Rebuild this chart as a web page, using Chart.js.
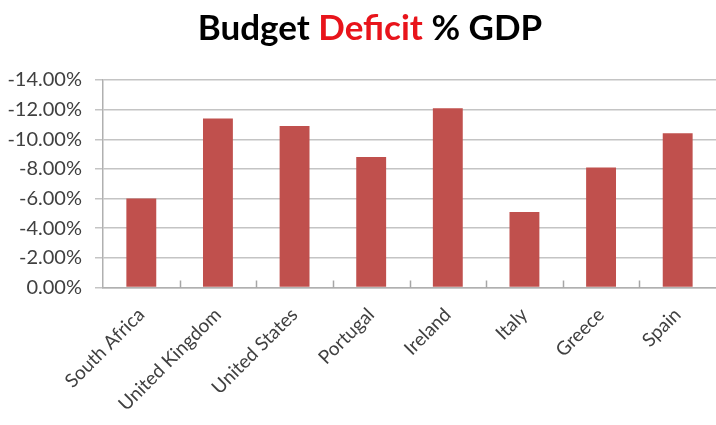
<!DOCTYPE html>
<html><head><meta charset="utf-8">
<script src="https://cdn.jsdelivr.net/npm/chart.js@4"></script>
<style>html,body{margin:0;padding:0;background:#fff}#wrap{width:716px;height:425px;position:relative}</style>
</head><body><div id="wrap"><canvas id="c"></canvas></div>
<script>
const categories = ["South Africa","United Kingdom","United States","Portugal","Ireland","Italy","Greece","Spain"];
const deficitPct = [-6.0,-11.4,-10.9,-8.8,-12.1,-5.1,-8.1,-10.4];
const yMin = -14, yMax = 0, yStep = 2;
const titleParts = [["Budget ","#000000"],["Deficit","#e8141b"],[" % GDP","#000000"]];

const titlePlugin = {
  id: 'twoColourTitle',
  afterDraw(chart) {
    const ctx = chart.ctx;
    ctx.save();
    ctx.font = 'bold 35px Lato, "Open Sans", sans-serif';
    ctx.textBaseline = 'alphabetic';
    const total = titleParts.reduce((s,p)=>s+ctx.measureText(p[0]).width,0);
    let x = 370 - total/2;
    for (const [t,c] of titleParts) { ctx.fillStyle = c; ctx.fillText(t, x, 40); x += ctx.measureText(t).width; }
    ctx.restore();
  }
};
const innerTicks = {
  id: 'innerTicks',
  afterDatasetsDraw(chart) {
    const xs = chart.scales.x, ctx = chart.ctx, b = chart.chartArea.bottom;
    ctx.save(); ctx.strokeStyle = '#a6a6a6'; ctx.lineWidth = 1.5;
    for (let i = 1; i < categories.length; i++) {
      const px = Math.round((xs.getPixelForValue(i-1)+xs.getPixelForValue(i))/2)+0.5;
      ctx.beginPath(); ctx.moveTo(px, b-7); ctx.lineTo(px, b); ctx.stroke();
    }
    ctx.restore();
  }
};

new Chart(document.getElementById('c'), {
  type: 'bar',
  data: { labels: categories, datasets: [{ data: deficitPct, backgroundColor: '#c0504d', borderWidth: 0, barPercentage: 0.39, categoryPercentage: 1.0 }] },
  options: {
    responsive: true, maintainAspectRatio: false, animation: false,
    layout: { padding: { top: 80, left: 0, right: 0, bottom: 0 } },
    plugins: { legend: { display: false }, tooltip: { enabled: false } },
    scales: {
      y: {
        min: yMin, max: yMax, reverse: true,
        ticks: { stepSize: yStep, padding: 13, color: '#404040', font: { family: 'Lato, "Open Sans", sans-serif', size: 20 },
          callback: v => (Math.abs(v) < 1e-9 ? 0 : v).toFixed(2) + '%' },
        grid: { color: '#c4c4c4', lineWidth: 1.5, tickLength: 8 },
        border: { display: true, color: '#b0b0b0', width: 1.5 },
        afterFit: s => { s.width = 103; }
      },
      x: {
        ticks: { minRotation: 45, maxRotation: 45, padding: 8, color: '#404040', font: { family: 'Lato, "Open Sans", sans-serif', size: 19 } },
        grid: { display: false },
        border: { display: true, color: '#b0b0b0', width: 1.5 },
        afterFit: s => { s.height = 137.5; }
      }
    }
  },
  plugins: [titlePlugin, innerTicks]
});
</script></body></html>
